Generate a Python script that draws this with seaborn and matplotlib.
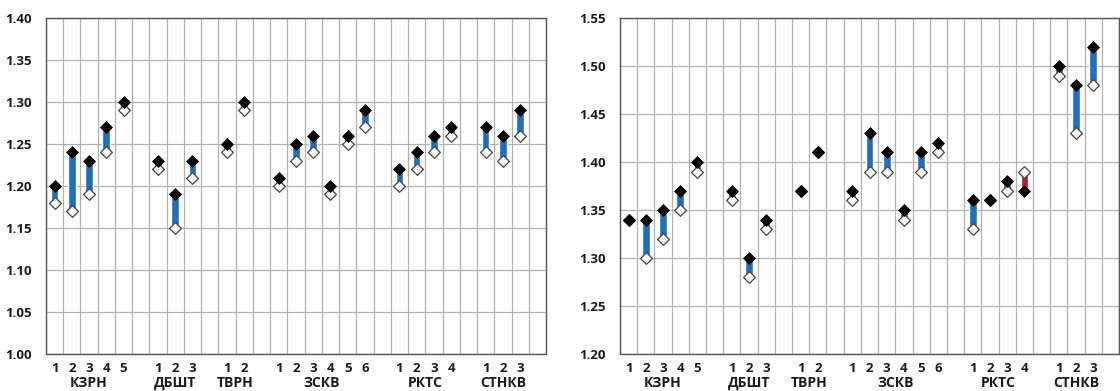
import numpy as np
import pandas as pd
import matplotlib.pyplot as plt
import matplotlib.transforms as mtransforms
import seaborn as sns

# Группы и число объектов в каждой
groups = ['КЗРН', 'ДБШТ', 'ТВРН', 'ЗСКВ', 'РКТС', 'СТНКВ']
group_sizes = [5, 3, 2, 6, 4, 3]

# Левая панель: верхнее (чёрный ромб) и нижнее (белый ромб) значения
left_high = [1.20, 1.24, 1.23, 1.27, 1.30,
             1.23, 1.19, 1.23,
             1.25, 1.30,
             1.21, 1.25, 1.26, 1.20, 1.26, 1.29,
             1.22, 1.24, 1.26, 1.27,
             1.27, 1.26, 1.29]
left_low = [1.18, 1.17, 1.19, 1.24, 1.29,
            1.22, 1.15, 1.21,
            1.24, 1.29,
            1.20, 1.23, 1.24, 1.19, 1.25, 1.27,
            1.20, 1.22, 1.24, 1.26,
            1.24, 1.23, 1.26]

# Правая панель
right_high = [1.34, 1.34, 1.35, 1.37, 1.40,
              1.37, 1.30, 1.34,
              1.37, 1.41,
              1.37, 1.43, 1.41, 1.35, 1.41, 1.42,
              1.36, 1.36, 1.38, 1.37,
              1.50, 1.48, 1.52]
right_low = [1.34, 1.30, 1.32, 1.35, 1.39,
             1.36, 1.28, 1.33,
             1.37, 1.41,
             1.36, 1.39, 1.39, 1.34, 1.39, 1.41,
             1.33, 1.36, 1.37, 1.39,
             1.49, 1.43, 1.48]

# Позиции слотов: группы разделены одним пустым слотом
pos, nums, grp = [], [], []
start = 0
for g, n in zip(groups, group_sizes):
    for i in range(n):
        pos.append(start + i)
        nums.append(str(i + 1))
        grp.append(g)
    start += n + 1
n_slots = start - 1

sns.set_style('white')
plt.rcParams['font.family'] = ['Open Sans', 'DejaVu Sans']

fig = plt.figure(figsize=(11.2, 3.91), dpi=100)
ax1 = fig.add_axes([0.041, 0.095, 0.4465, 0.859])
ax2 = fig.add_axes([0.5536, 0.095, 0.4455, 0.859])

blue = '#1f6fbd'
red = '#c0161b'
txt = '#1a1a1a'


def draw_panel(ax, high, low, ylim):
    df = pd.DataFrame({'pos': pos, 'num': nums, 'group': grp,
                       'high': high, 'low': low})
    colors = [blue if h >= l else red for h, l in zip(df['high'], df['low'])]
    bottoms = np.minimum(df['high'], df['low'])
    heights = np.abs(df['high'] - df['low'])
    ax.bar(df['pos'], heights, bottom=bottoms, width=0.44, color=colors,
           zorder=3)
    sns.scatterplot(data=df, x='pos', y='low', marker='D', s=36,
                    color='#fffdf5', edgecolor='#444444', linewidth=0.9,
                    ax=ax, zorder=4)
    sns.scatterplot(data=df, x='pos', y='high', marker='D', s=36,
                    color='black', edgecolor='black', linewidth=0.6,
                    ax=ax, zorder=5)

    ax.set_xlim(-0.5, n_slots + 0.5)
    ax.set_ylim(*ylim)
    ax.set_yticks(np.arange(ylim[0], ylim[1] + 0.001, 0.05))
    ax.set_yticklabels(['%.2f' % v for v in ax.get_yticks()],
                       fontsize=9.5, fontweight='bold', color=txt)

    ax.set_xticks(np.arange(-0.5, n_slots + 1, 1.0))
    ax.set_xticklabels([])
    ax.set_xticks(df['pos'], minor=True)
    ax.set_xticklabels(df['num'], minor=True, fontsize=9.5,
                       fontweight='bold', color=txt)
    ax.tick_params(axis='x', which='minor', length=0, pad=6)
    ax.tick_params(axis='x', which='major', length=4, color='#888888')
    ax.tick_params(axis='y', length=4, color='#888888', pad=6)

    ax.grid(True, which='major', color='#b0b0b0', linewidth=0.9)
    ax.set_axisbelow(True)
    for sp in ax.spines.values():
        sp.set_color('#555555')
        sp.set_linewidth(1.0)

    trans = mtransforms.blended_transform_factory(ax.transData, ax.transAxes)
    for g in groups:
        p = df.loc[df['group'] == g, 'pos']
        ax.text(p.mean(), -0.086, g, transform=trans, ha='center', va='center',
                fontsize=10, fontweight='bold', color=txt)
    ax.set_xlabel('')
    ax.set_ylabel('')


draw_panel(ax1, left_high, left_low, (1.00, 1.40))
draw_panel(ax2, right_high, right_low, (1.20, 1.55))

fig.savefig('out.png', dpi=100)
